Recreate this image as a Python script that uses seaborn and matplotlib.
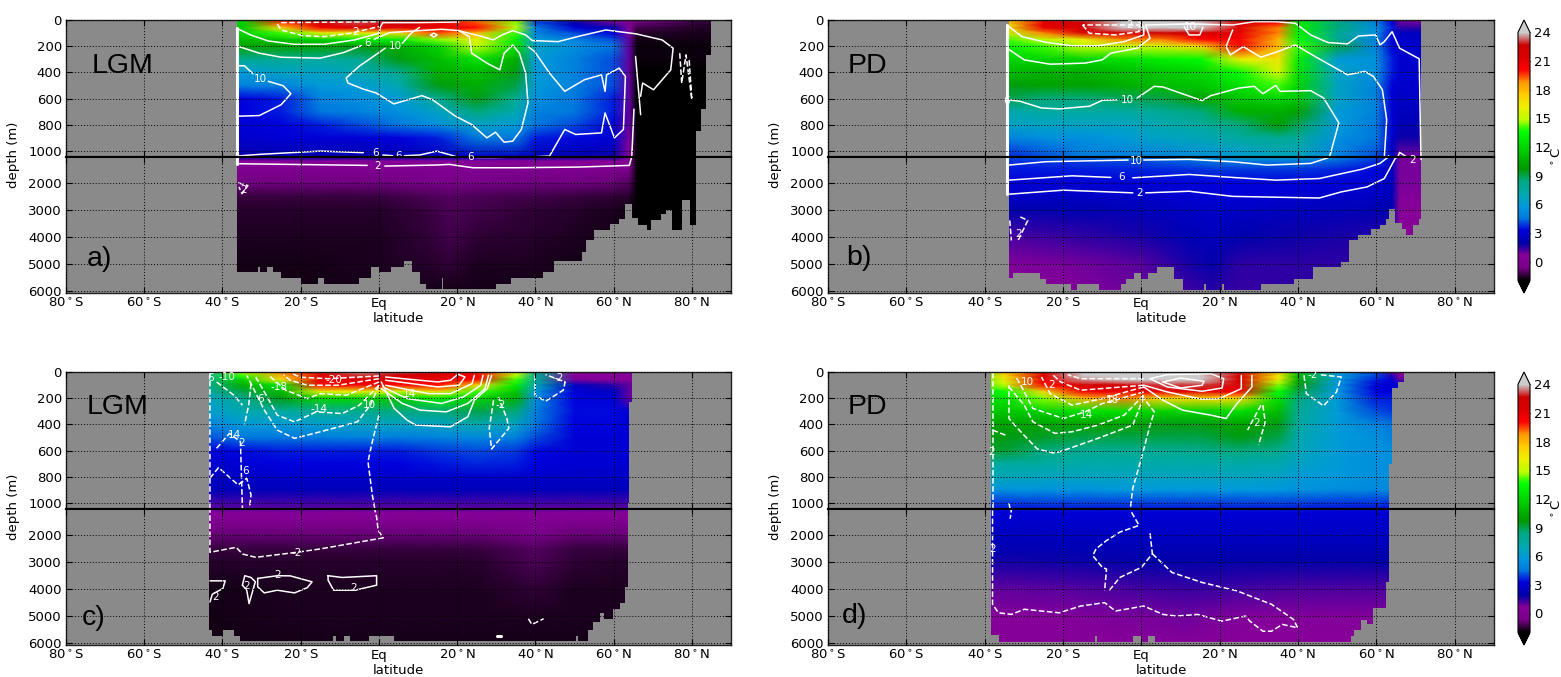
import numpy as np
import pandas as pd
import matplotlib
matplotlib.use("Agg")
import matplotlib.pyplot as plt
import seaborn as sns

# ---- grids of the temperature sections ----
lat_upper = [-45, -35, -25, -15, -5, 5, 15, 25, 35, 40, 50, 60, 64, 66, 90]
depth_upper = [0, 25, 60, 100, 150, 200, 300, 400, 500, 600, 700, 800, 900, 1050]
lat_lower = [-45, -20, 0, 12, 18, 25, 40, 50, 60, 64, 66, 90]
depth_lower = [1050, 1200, 1500, 2000, 2500, 3000, 4000, 5000, 6100]

a_upper = [
    [11, 12, 20, 22.5, 23.5, 23, 21, 19, 15, 4, 1.5, 0.5, 0, -0.5, -1.7],
    [11, 12, 19.5, 22, 23, 22.5, 21, 19.5, 14.5, 4, 2, 1, 0, -0.8, -1.7],
    [11, 11.5, 17, 20.5, 21.5, 21, 21, 20, 15, 5, 3, 2, 0.5, -1.2, -1.7],
    [12, 12, 14, 16, 16, 17, 19.5, 18, 14, 5, 4, 3, 0.8, -1.5, -1.7],
    [11, 11, 11.5, 12, 13, 13, 14.5, 16, 13, 6, 5, 4, 1, -1.7, -1.7],
    [10, 10, 10, 10, 9.5, 10.5, 12, 15, 12.5, 6.5, 5.5, 4.5, 1, -1.8, -1.8],
    [8, 8, 8, 7.5, 8, 9.5, 11, 12.5, 10.5, 6, 5, 4, 1, -1.8, -1.8],
    [6, 6, 6.5, 6.5, 7, 8, 10.5, 11, 9.5, 6, 5, 4, 1, -1.9, -1.9],
    [5, 5, 5, 6, 6, 7, 9.5, 10.5, 9, 6, 5, 4, 1, -1.9, -1.9],
    [3.2, 3.2, 3.5, 5, 5.5, 6, 8, 9.5, 8, 5.5, 4.5, 3.5, 1, -2, -2],
    [3.2, 3.2, 3.5, 4.5, 5, 5.5, 6.5, 8.5, 7, 5, 4.5, 3.5, 1, -2, -2],
    [3, 3, 3.2, 3.5, 4, 4.5, 5.5, 6.5, 6, 4.5, 4, 3, 1, -2, -2],
    [2.8, 2.8, 3, 3, 3, 3.2, 3.5, 4.5, 4.5, 3.5, 3.3, 3, 0.8, -2, -2],
    [1.8, 1.8, 2, 2, 2, 2, 2.2, 2.5, 2.5, 2.2, 2, 1.8, 0.5, -2, -2],
]
a_lower = [
    [1.8, 2, 2, 2.2, 2.5, 2.5, 2.2, 2, 1.8, 0.5, -2, -2],
    [0.5, 0.5, 0.5, 0.6, 0.6, 0.6, 0.5, 0.5, 0.5, 0.2, -2, -2],
    [0, 0, 0, 0, 0, 0, 0, 0, 0, -0.2, -2, -2],
    [-0.7, -0.7, -0.7, -0.6, -0.6, -0.6, -0.7, -0.7, -0.8, -1, -2, -2],
    [-1.3, -1.3, -1.3, -1.1, -1, -1.1, -1.2, -1.3, -1.4, -1.5, -2, -2],
    [-1.5, -1.5, -1.5, -1.3, -1.1, -1.2, -1.4, -1.5, -1.6, -1.7, -2, -2],
    [-1.6, -1.6, -1.6, -1.4, -1.2, -1.4, -1.5, -1.6, -1.7, -1.8, -2, -2],
    [-1.7, -1.7, -1.6, -1.5, -1.4, -1.6, -1.6, -1.7, -1.7, -1.8, -2, -2],
    [-1.7, -1.7, -1.7, -1.7, -1.7, -1.7, -1.7, -1.7, -1.8, -1.8, -2, -2],
]

b_upper = [
    [17, 17, 21, 23, 24, 24, 23.5, 22, 20.5, 13, 8, 4.5, 3, 1, 1],
    [16.5, 16.5, 21, 22.5, 24, 24, 24, 22, 20, 13, 8.5, 5, 3, 1, 1],
    [16, 16, 21, 22, 24, 24, 24, 21.5, 19, 13, 8.5, 5.5, 3.5, 1.5, 1.5],
    [15, 15, 19, 21.5, 22, 22.5, 22.5, 21, 19, 13, 8, 5.5, 3, 2.5, 2.5],
    [14, 14, 15, 16, 19, 19, 20, 20.5, 18, 13.5, 8, 5, 3, 2.7, 2.7],
    [13, 13, 14, 15, 15, 15.5, 17, 20, 18, 14, 9, 5, 3, 2.8, 2.8],
    [12, 12, 12, 12, 12.5, 13, 13.5, 16, 16.5, 13, 6, 5.5, 3.5, 2.8, 2.8],
    [11, 11, 10.5, 10.5, 11, 11.5, 12, 13.5, 15.5, 12.5, 6.5, 5.5, 3.5, 2.8, 2.8],
    [9.5, 9.5, 10, 10, 10.5, 11, 11.5, 12.5, 14, 12, 6.5, 5, 3, 2.8, 2.8],
    [9, 9, 8.5, 8.5, 8.8, 9, 10, 11.5, 12, 11.5, 6.5, 5, 3, 2.6, 2.6],
    [7, 7, 7.5, 7.5, 7.5, 7.8, 8.5, 10.5, 10.5, 10, 6, 5, 3, 2.4, 2.4],
    [6.5, 6.5, 6.5, 6.5, 6.5, 7, 7.5, 8.5, 9.8, 8.8, 6, 4.5, 3, 2.2, 2.2],
    [5, 5, 5.5, 5.5, 6, 6.5, 6.8, 7.5, 8, 7.8, 5.5, 4.5, 2.8, 1.8, 1.8],
    [3.5, 3.5, 4, 4.5, 4.8, 5, 5.5, 6, 6.5, 6.5, 5, 4, 2.5, 0.8, 0.8],
]
b_lower = [
    [3.5, 4.5, 5, 5.5, 6, 6.5, 6.5, 5, 4, 2.5, 0.8, 0.8],
    [3.7, 3.8, 4, 4.3, 4.5, 4.7, 4.7, 4.3, 3.7, 2.5, 0.8, 0.8],
    [3.4, 3.5, 3.6, 3.7, 3.8, 3.8, 3.8, 3.6, 3.3, 2.5, 0.8, 0.8],
    [3, 3, 3, 3.1, 3.2, 3.2, 3.2, 3, 2.9, 2.4, 0.8, 0.8],
    [2.6, 2.6, 2.7, 2.9, 3, 3, 2.9, 2.7, 2.6, 2.2, 0.7, 0.7],
    [2, 2.1, 2.3, 2.6, 2.7, 2.6, 2.4, 2.3, 2.2, 2, 0.6, 0.6],
    [1.1, 1.4, 1.7, 2.2, 2.4, 2, 1.8, 1.7, 1.6, 1.5, 0.5, 0.5],
    [0.6, 0.8, 1.1, 1.7, 1.9, 1.5, 1.5, 1.5, 1.5, 1.5, 0.5, 0.5],
    [0.6, 0.6, 0.9, 1.3, 1.5, 1.4, 1.5, 1.5, 1.5, 1.5, 0.5, 0.5],
]

c_upper = [
    [8, 15, 19, 22, 23.5, 23, 21.5, 20, 15, 8.5, 0.6, 0.6, 0.5, 0.5, 0.5],
    [8, 14, 18.5, 21.5, 23, 22.5, 21.5, 20.5, 15, 8, 0.6, 0.6, 0.5, 0.5, 0.5],
    [8, 12, 16.5, 21, 21.5, 21.5, 21, 20, 14, 8, 0.8, 0.6, 0.5, 0.5, 0.5],
    [7.5, 10.5, 13, 20, 20.5, 20, 20, 17, 13, 7, 2.5, 1.5, 1, 1, 1],
    [7, 9, 11, 16, 16, 15, 17, 14, 11.5, 6, 3, 2.5, 1, 1, 1],
    [6.5, 8, 9.5, 12, 12, 11.5, 13, 12, 10.5, 5.5, 3.2, 3, 1, 1, 1],
    [6, 7, 7.5, 8, 8.2, 8.5, 8.5, 9, 8.5, 5, 3.3, 3.3, 3, 3, 3],
    [5, 6, 6, 6.2, 6.5, 6.5, 6.5, 7, 6.5, 4.5, 3.2, 3.2, 3, 3, 3],
    [4, 4.5, 4.5, 4.8, 5, 4.8, 5, 5.2, 5, 4, 3, 3, 3, 3, 3],
    [3.2, 3.3, 3.5, 3.5, 3.5, 3.5, 3.8, 4, 3.8, 3.3, 3, 3, 3, 3, 3],
    [2.8, 3, 3.2, 3.2, 3.2, 3.2, 3.4, 3.6, 3.5, 3.2, 2.9, 2.9, 2.9, 2.9, 2.9],
    [2.6, 2.7, 2.8, 2.8, 2.8, 2.8, 2.8, 2.8, 2.8, 2.8, 2.7, 2.7, 2.7, 2.7, 2.7],
    [2.3, 2.3, 2.3, 2.3, 2.3, 2.3, 2.3, 2.3, 2.3, 2.3, 2.3, 2.3, 2.3, 2.3, 2.3],
    [1, 1, 1, 1, 1, 1, 1, 1, 1, 1, 1, 1, 1, 1, 1],
]
c_lower = [
    [1, 1, 1, 1, 1, 1, 1, 1, 1, 1, 1, 1],
    [0.5, 0.5, 0.5, 0.5, 0.5, 0.5, 0.5, 0.5, 0.5, 0.5, 0.5, 0.5],
    [0, 0, 0, 0, 0, 0, 0.1, 0, 0, 0, 0, 0],
    [-0.8, -0.8, -0.8, -0.8, -0.8, -0.8, -0.5, -0.8, -0.8, -0.8, -0.8, -0.8],
    [-1.3, -1.3, -1.3, -1.3, -1.3, -1.3, -1, -1.3, -1.3, -1.3, -1.3, -1.3],
    [-1.5, -1.5, -1.5, -1.5, -1.5, -1.5, -1.1, -1.4, -1.5, -1.5, -1.5, -1.5],
    [-1.7, -1.6, -1.6, -1.6, -1.6, -1.6, -1.4, -1.6, -1.6, -1.6, -1.6, -1.6],
    [-1.7, -1.6, -1.6, -1.6, -1.6, -1.6, -1.6, -1.6, -1.6, -1.6, -1.6, -1.6],
    [-1.7, -1.7, -1.7, -1.7, -1.7, -1.7, -1.7, -1.7, -1.7, -1.7, -1.7, -1.7],
]

d_upper = [
    [13, 18, 22, 24, 24, 24, 24, 22, 17, 11.5, 6, 3.5, 1, 0.5, 0.5],
    [13, 17, 21.5, 24, 24, 24, 24, 22, 16.5, 11, 6, 4, 1.5, 0.5, 0.5],
    [13, 16, 21, 23.5, 24, 24, 24, 22, 16, 10.5, 6, 3.5, 3, 1, 1],
    [12.5, 15, 20, 22, 22, 23, 23, 21.5, 14.5, 9.5, 5.8, 3, 3, 3, 3],
    [12, 13.5, 17, 20.5, 21, 21, 21.5, 20.5, 13.5, 9, 5.8, 3.2, 3, 3, 3],
    [12, 12.5, 14.5, 18, 19, 17, 17, 17, 12.5, 8.5, 6, 3.5, 3.5, 3.5, 3.5],
    [11.5, 11.5, 12, 12.5, 12.5, 12, 12, 12.5, 11, 8, 6, 4, 3.8, 3.8, 3.8],
    [10, 10, 10, 10, 10, 9.5, 9.5, 10, 9.5, 7.5, 6, 5, 4.5, 4.5, 4.5],
    [9.5, 9.5, 9.3, 9, 9, 9, 9, 9.5, 9, 7, 6, 5.5, 5, 5, 5],
    [9.5, 9.2, 8.5, 8, 8, 8, 8.2, 8.5, 8.2, 6.8, 6, 5.5, 5.5, 5.5, 5.5],
    [7.5, 7.5, 7.5, 7.2, 7.2, 7.2, 7.2, 7.2, 7, 6.5, 6, 5.5, 5.5, 5.5, 5.5],
    [6.8, 6.8, 6.6, 6.6, 6.6, 6.6, 6.6, 6.6, 6.4, 6, 5.8, 5.5, 5.5, 5.5, 5.5],
    [5.6, 5.6, 5.6, 5.6, 5.8, 5.8, 5.8, 5.8, 5.8, 5.6, 5.4, 5.2, 5.2, 5.2, 5.2],
    [3.3, 3.3, 3.4, 3.4, 3.4, 3.4, 3.4, 3.4, 3.4, 3.4, 3.3, 3.3, 3.3, 3.3, 3.3],
]
d_lower = [
    [3.3, 3.4, 3.4, 3.4, 3.4, 3.4, 3.4, 3.3, 3.3, 3.3, 3.3, 3.3],
    [3, 3, 3, 3, 3, 3, 3, 3, 3, 3, 3, 3],
    [2.8, 2.8, 2.8, 2.8, 2.8, 2.8, 2.8, 2.8, 2.8, 2.8, 2.8, 2.8],
    [2.4, 2.5, 2.6, 2.6, 2.6, 2.6, 2.6, 2.6, 2.6, 2.6, 2.6, 2.6],
    [2.1, 2.2, 2.2, 2.2, 2.2, 2.2, 2.2, 2.2, 2.2, 2.2, 2.2, 2.2],
    [1.7, 1.8, 1.9, 1.9, 1.9, 1.9, 1.9, 1.9, 1.9, 1.9, 1.9, 1.9],
    [1, 1.1, 1.3, 1.4, 1.4, 1.3, 1.2, 1.2, 1.2, 1.2, 1.2, 1.2],
    [0.6, 0.7, 0.8, 0.9, 0.8, 0.7, 0.7, 0.7, 0.7, 0.7, 0.7, 0.7],
    [0.5, 0.5, 0.6, 0.6, 0.6, 0.6, 0.6, 0.6, 0.6, 0.6, 0.6, 0.6],
]

# ---- sea floor: latitude where a step starts, deepest wet depth from there ----
a_floor_lat = [-80, -36.4, -31, -30.5, -28.5, -27, -25, -20, -15.6, -14, -5, -2, 0, 3.2, 6.5, 8.4, 10.4, 12, 16, 16.5, 30, 33.7, 42,
               44.7, 52, 53, 55, 59, 61.3, 63, 64.7, 66.3, 68.5, 69.5, 72, 73.5, 75, 77.4, 79.6, 81, 82.4, 83.5, 85]
a_floor_depth = [0, 5300, 5100, 5300, 5100, 5300, 5530, 5720, 5530, 5720, 5530, 5100, 5300, 5100, 4900, 5300, 5720, 5930, 5530, 5930, 5720, 5530, 5300,
                 4900, 4540, 4100, 3740, 3520, 3330, 2800, 3300, 3550, 3740, 3360, 3140, 3000, 3740, 2620, 3550, 850, 680, 270, 0]
b_floor_lat = [-80, -33.8, -32.9, -26, -24.4, -18, -16.5, -10.7, -5.3, -3.9, -2, 0, 1.7, 3.9, 8.3, 10.5, 16, 16.5, 20.5, 21, 30.5, 39, 43.7,
               51, 53, 55.4, 58.7, 60.9, 62.5, 63.3, 64.8, 66.4, 67.5, 69.2, 70.9, 71.4]
b_floor_depth = [0, 5530, 5340, 5560, 5745, 5960, 5745, 5960, 5745, 5560, 5340, 5560, 5340, 5125, 5560, 5960, 5745, 5960, 5745, 5960, 5745, 5560, 5125,
                 4940, 4130, 3920, 3700, 3540, 3330, 2950, 3490, 3700, 3920, 3540, 3330, 0]
c_floor_lat = [-80, -43.5, -42.6, -39.9, -37.1, -35.4, -11.7, -11, -8.9, -7.4, -2.5, 3.9, 50.5, 51, 53.5, 54.8, 56.5, 57.6, 59.8, 61.5, 63, 63.7, 64, 64.6]
c_floor_depth = [0, 5530, 5720, 5530, 5720, 5930, 5720, 5930, 5720, 5930, 5720, 5930, 5720, 5930, 5530, 5220, 4900, 5100, 4730, 4520, 3920, 1000, 230, 0]
d_floor_lat = [-80, -38.3, -36.3, -11.9, -11.3, -2.2, 0, 1.7, 3.5, 53.4, 54.3, 56, 57.5, 58, 59.2, 62.5, 63.3, 64, 65.6, 67]
d_floor_depth = [0, 5700, 5950, 5720, 5950, 5720, 5950, 5720, 5950, 5720, 5500, 5130, 5300, 5300, 4700, 3750, 700, 120, 80, 0]

a_solid = [
    [(-36.4, 63), (-32.8, 114), (-28.3, 160), (-21.7, 185), (-14, 185), (-6.2, 152), (0, 101), (0.4, 51), (1, 20), (10.4, 20), (20.4, 15)],
    [(-36.4, 197), (-30.6, 253), (-25, 284), (-15, 291), (-9, 248), (-4.5, 195)],
    [(-1.2, 147), (2.7, 96), (10.4, 81), (16, 71), (20.4, 81), (23, 101), (26.5, 127), (29.2, 152), (31.5, 114), (34.2, 81), (37.5, 114), (39.2, 157),
     (45.8, 165), (51.4, 122), (58, 76), (65.8, 106), (72.4, 152), (75.2, 215), (74.6, 380), (72.4, 456), (70.2, 532), (67.4, 481), (66.9, 582)],
    [(65.6, 278), (66.9, 722)],
    [(10.4, 56), (8.2, 101), (6, 177)],
    [(1.6, 215), (-5.1, 354), (-8.4, 443), (-7.9, 481), (-4, 527), (-0.7, 557), (3.8, 640), (11, 577), (13.7, 608), (19.3, 729), (23.7, 797), (27.6, 899),
     (29.8, 856), (32, 932), (34.2, 924), (36.4, 835), (38.1, 633), (37.5, 405), (35.9, 253), (34.2, 190), (32, 253), (30.9, 380), (27.6, 329), (23.7, 253), (23.1, 127), (20.4, 81)],
    [(13.2, 114), (14, 100), (14.9, 114), (14, 130), (13.2, 114)],
    [(-36.4, 349), (-34.4, 349), (-32.2, 410)],
    [(-28.3, 468), (-24.5, 501), (-22.5, 562), (-25, 646), (-30.6, 729), (-36.4, 734)],
    [(38, 200), (39.8, 240), (43.6, 405), (47.5, 544), (52.5, 456), (56.9, 418), (57.8, 544), (58.2, 418), (61.4, 367), (63, 430), (62.5, 835), (60.2, 899),
     (57.8, 709), (56.9, 861), (50.3, 873), (47.5, 835), (43.6, 1038), (34.8, 1050), (29.2, 1063), (25, 1063)],
    [(-36.4, 1038), (-30.6, 1025), (-15, 1000), (-4, 1012)],
    [(1, 1030), (3.5, 1035)],
    [(6.5, 1035), (10.4, 1030), (14.8, 1000), (19.3, 1038), (21.5, 1060)],
    [(-36.4, 1293), (-3, 1355)],
    [(1.5, 1380), (15, 1340), (18, 1318), (24, 1442), (35, 1442), (51, 1417), (64, 1355), (64.7, 1000), (65.2, 680)],
]
a_bold = [[(-36.4, 63), (-36.4, 1293)]]
a_dashed = [
    [(-26, 30), (-25, 76), (-19.5, 119), (-14, 127), (-7.3, 101), (0, 50)],
    [(-25, 20), (0, 13)],
    [(76.9, 253), (77.4, 481), (78.5, 266), (80, 608), (79.3, 304)],
    [(-36, 2000), (-33.5, 2100), (-35, 2400), (-35.8, 2150)],
]
a_labels = [("2", -6, 89), ("6", -3, 172), ("10", 4.3, 197), ("10", -30.2, 450), ("6", -0.8, 1018), ("6", 4.9, 1035),
            ("6", 23.5, 1063), ("2", -0.4, 1380), ("2", -34.5, 2250)]

b_solid = [
    [(-34.3, 38), (-30.5, 127), (-24.4, 170), (-17.7, 197), (-11.1, 197), (-4.4, 165), (0.6, 114), (0.6, 51), (-0.6, 13)],
    [(-34.3, 215), (-29.9, 304), (-23.3, 337), (-14.4, 329), (-10, 304), (-7.8, 253), (-1.1, 215), (2.2, 139), (1.1, 38), (12.2, 30), (23.3, 38), (28.8, 13), (34.3, 13),
     (39.3, 25), (43.2, 114), (47.6, 172), (52.6, 182), (55.4, 122), (59.8, 114), (60.9, 190), (62, 165), (64, 89), (65.9, 215), (70.9, 296), (71.4, 1139)],
    [(23.3, 76), (21.6, 203), (22.7, 266), (26, 203), (30.5, 284), (34.9, 240), (39.3, 190), (44.3, 278), (52.6, 418), (57, 392), (59.2, 430), (61.5, 532), (62.6, 760), (62, 1051)],
    [(-34.3, 608), (-31, 620), (-25.5, 671), (-21, 678), (-13.3, 658), (-10, 613), (-6.1, 608)],
    [(-1.1, 595), (3.3, 506), (5.5, 511), (15.5, 615), (17.7, 577), (24.9, 519), (28.8, 506), (31, 562), (34.3, 499), (35.4, 544), (43.2, 539), (46.5, 595), (50.4, 785),
     (48.2, 1025), (47.5, 1080), (43.2, 1281), (32.1, 1343), (23.3, 1219), (12.2, 1132), (0.6, 1157)],
    [(-3.4, 1157), (-24.4, 1219), (-33.8, 1343)],
    [(10.9, 51), (12.2, 114), (14.9, 114), (15.7, 56)],
    [(-33.8, 1900), (-17.7, 1740), (-7.8, 1800)],
    [(-2.2, 1814), (12.2, 1690), (23.3, 1800), (34.3, 1900), (45.4, 1840), (56.5, 1490), (60.9, 1280), (63.1, 1035)],
    [(-33.8, 2420), (-19.9, 2270), (-2.2, 2370)],
    [(1.1, 2370), (12.2, 2310), (23.3, 2500), (45.4, 2560), (51, 2335), (57.6, 2150), (62, 1840), (64.8, 1095), (65.9, 1010), (67.5, 1040)],
]
b_bold = [[(-34.3, 38), (-34.3, 2420)]]
b_dashed = [
    [(-15, 38), (-13.3, 101), (-6.6, 114), (-0.6, 89), (-0.6, 38), (-15, 38)],
    [(-33.6, 3390), (-33.2, 4130)],
    [(-30.9, 3260), (-29, 3390), (-31.5, 4130)],
]
b_labels = [("10", -3.5, 613), ("10", -1.3, 1180), ("6", -5, 1800), ("2", -0.4, 2370), ("2", 69.2, 1157), ("2", -3.1, 35),
            ("10", 12.5, 51), ("6", -34.3, 620), ("2", -31.3, 3900)]

c_solid = [
    [(0.6, 76), (3.9, 278), (7.2, 367), (9.4, 405), (18.3, 418), (22.7, 342), (24.4, 215), (27.7, 127), (28.8, 25)],
    [(0.6, 127), (6, 240), (10.5, 291), (17.2, 304), (22.7, 240), (27.1, 127), (28, 25)],
    [(1, 114), (7.2, 203), (16, 240), (21.6, 190), (26, 101), (26.6, 25)],
    [(1.7, 101), (12.7, 165), (18.3, 165), (23.8, 89), (24.4, 25)],
    [(1.7, 63), (15, 114), (20.5, 101), (22, 38), (20, 15)],
    [(1.7, 38), (15, 76), (18.3, 63), (19.9, 25)],
    [(-43.2, 3700), (-39.3, 3700), (-39.9, 3980), (-42.6, 4195), (-43.2, 4480)],
    [(-34.9, 3860), (-34.3, 3510), (-32.7, 3575), (-31.6, 3735), (-33.2, 4540), (-33.8, 4045), (-34.9, 3860)],
    [(-31, 3610), (-26, 3510), (-22.7, 3515), (-17.1, 3735), (-18.3, 3950), (-21.6, 4145), (-26, 4045), (-29.3, 4145), (-31, 3920), (-31, 3610)],
    [(-13, 3510), (-9.4, 3575), (-0.6, 3510), (-0.6, 3860), (-6.1, 4045), (-11.6, 4045), (-13, 3675), (-13, 3510)],
]
c_bold = [[(30.3, 5730), (31.1, 5730)]]
c_dashed = [
    [(0, 329), (-1.7, 532), (-2.8, 684), (-1.7, 937), (-1.1, 1038), (-0.6, 1343), (-0.2, 1840), (1.1, 2110), (-15, 2520), (-21, 2645), (-31.5, 2830),
     (-34.9, 2707), (-36.5, 2460), (-43.2, 2645), (-43.2, 0)],
    [(0, 101), (-2.2, 253), (-5.5, 380), (-15, 456), (-21.6, 506), (-26, 443), (-29.3, 291), (-32.7, 89), (-33.8, 25)],
    [(0, 101), (-5, 253), (-9.4, 317), (-16, 304), (-21.6, 380), (-26, 329), (-29.3, 152), (-31.5, 38)],
    [(0, 76), (-8.3, 177), (-15, 165), (-18.3, 203), (-23.8, 139), (-27.2, 51), (-28.3, 20)],
    [(0, 51), (-10.5, 101), (-18.3, 101), (-22.7, 63), (-24.4, 20)],
    [(0, 30), (-13, 51), (-20, 40), (-22, 15)],
    [(-32.7, 89), (-33.3, 253), (-34.4, 405)],
    [(-41.5, 76), (-37.1, 177), (-34.9, 253)],
    [(-43.2, 810), (-41, 729), (-36, 861), (-33.8, 810), (-32.7, 937), (-33.2, 1063), (-34.9, 1038), (-35.4, 532), (-38.2, 468), (-41.5, 582)],
    [(29.3, 215), (28.2, 430), (28.8, 587), (33.2, 430), (32.7, 354), (30.5, 190)],
    [(39.9, 25), (39.9, 177), (42.6, 223), (47.1, 139), (47.6, 76), (42.6, 20)],
    [(38.2, 5100), (39.1, 5310), (42.1, 5100)],
]
c_labels = [("-10", -38.8, 38), ("6", -43, 42), ("-14", -15.3, 286), ("-20", -11.6, 63), ("-18", -25.5, 114), ("6", -30.2, 203),
            ("-2", 31.2, 253), ("-2", 46, 43), ("14", -37, 481), ("2", -35, 540), ("6", -34, 752), ("10", -2.5, 253), ("14", 7.8, 165),
            ("-2", -21, 2680), ("2", -26, 3480), ("2", -6.6, 3970), ("2", -41.8, 4300), ("2", -33.8, 3880)]

d_solid = [
    [(0.6, 114), (5.5, 215), (10.5, 291), (17.7, 329), (21.6, 355), (24.4, 240), (28.2, 114), (28.2, 25)],
    [(0.6, 101), (6.6, 152), (15.5, 208), (19.9, 203), (25.5, 127), (25.5, 25)],
    [(2.2, 51), (6.6, 114), (15.5, 147), (20.6, 122), (21, 51), (17.7, 13), (6.6, 20), (2.2, 51)],
    [(5.5, 76), (10, 122), (15.5, 101), (16, 71), (10, 46), (5.5, 76)],
]
d_bold = []
d_dashed = [
    [(0, 177), (3.3, 304), (2.2, 405), (0, 658), (-2.2, 886), (-2.8, 1038), (-2.8, 1095), (-0.6, 1650), (-5.5, 1900), (-8.9, 2210), (-11.6, 2520),
     (-12.4, 2770), (-10, 3200), (-8.9, 3265), (-9.4, 4070)],
    [(2.2, 1940), (2.8, 2700), (0, 3200), (-5.5, 3575), (-8.3, 4070)],
    [(2.8, 2700), (7.8, 3390), (15.5, 3760), (24.4, 4070), (28.8, 4320), (33.2, 4565), (38.8, 5125), (39.9, 5435), (36, 5310), (33.2, 5560), (31, 5560), (27.7, 5190),
     (26.6, 5000), (20.5, 5190), (14.4, 4940), (8.9, 5000), (5.5, 4940), (0.6, 4630), (-6.6, 4815), (-9.4, 4505), (-15.5, 4630), (-21, 4880), (-29.9, 4750),
     (-33.2, 4940), (-36.5, 4880), (-38, 4565), (-38, 0)],
    [(0.6, 177), (-4.4, 329), (-11.1, 405), (-17.7, 456), (-22.1, 468), (-27.7, 380), (-29.9, 253), (-33.8, 114)],
    [(0.6, 190), (-2.2, 405), (-11.1, 506), (-18.3, 582), (-22.1, 620), (-26.6, 587), (-31.6, 430), (-33.8, 354), (-33.8, 101)],
    [(0.6, 152), (-10, 241), (-14.4, 304), (-19.9, 354), (-27.7, 278), (-31, 89), (-32, 40)],
    [(0.6, 114), (-10, 203), (-17.7, 253), (-23.3, 165), (-25.5, 38)],
    [(0.6, 101), (-15.5, 139), (-20.6, 76), (-22.7, 20)],
    [(0.6, 51), (-15.5, 51), (-18.8, 20)],
    [(-38, 443), (-34.3, 486)],
    [(-33.8, 1000), (-33.2, 1100), (-33.5, 1405)],
    [(30.5, 253), (27.1, 443)],
    [(31, 253), (31.6, 380), (29.9, 557)],
    [(41.5, 25), (42.1, 165), (46.5, 258), (49.8, 152), (51, 38), (45.4, 20)],
]
d_labels = [("18", -7.5, 210), ("14", -14, 329), ("2", 29.3, 392), ("-2", 43.7, 25), ("2", -38.2, 608), ("2", -23, 100),
            ("10", -29, 76), ("2", -38, 2520)]

# ticks and text
lat_ticks = [-80, -60, -40, -20, 0, 20, 40, 60, 80]
lat_labels = ["80$^\\circ$S", "60$^\\circ$S", "40$^\\circ$S", "20$^\\circ$S", "Eq", "20$^\\circ$N", "40$^\\circ$N", "60$^\\circ$N", "80$^\\circ$N"]
upper_ticks = [0, 200, 400, 600, 800, 1000]
lower_ticks = [2000, 3000, 4000, 5000, 6000]
bar_ticks = [0, 3, 6, 9, 12, 15, 18, 21, 24]

W, H = 1561, 677
LAND = "#8a8a8a"
UP_YLIM = (1045, 0)
LO_YLIM = (6070, 1045)

sns.set_style("white")
plt.rcParams["font.family"] = ["DejaVu Sans"]
plt.rcParams["font.size"] = 9.5
plt.rcParams["text.color"] = "black"
plt.rcParams["axes.labelcolor"] = "black"

cmap = plt.get_cmap("nipy_spectral").copy()
cmap.set_under("black")
cmap.set_over("#cccccc")

fig = plt.figure(figsize=(W / 100, H / 100), dpi=100)


def px_axes(x0, y0, x1, y1):
    return fig.add_axes([x0 / W, 1 - y1 / H, (x1 - x0) / W, (y1 - y0) / H])


def draw_section(ax, values, lats, depths, floor_lat, floor_depth, ylim, cax=None):
    table = pd.DataFrame(values, index=depths, columns=lats)
    cbar_kws = {"extend": "both", "extendfrac": 0.05, "ticks": bar_ticks}
    sns.heatmap(table, ax=ax, cmap=cmap, vmin=-2, vmax=24, shading="gouraud", xticklabels=False, yticklabels=False,
                cbar=cax is not None, cbar_ax=cax, cbar_kws=cbar_kws if cax is not None else None)
    mesh = ax.collections[0]
    # heatmap puts the nodes on 0,1,2..; move them to the real lat/depth
    X, Y = np.meshgrid(lats, depths)
    mesh._coordinates = np.stack([X, Y], axis=-1)
    # land
    ax.set_facecolor(LAND)
    ax.fill_between(floor_lat + [90], floor_depth + [0], 7000, step="post", color=LAND, linewidth=0, zorder=1.5)
    ax.set_xlim(-80, 90)
    ax.set_ylim(*ylim)
    return mesh


def draw_lines(ax, lines, lw, ls):
    for line in lines:
        pts = np.array(line)
        sns.lineplot(x=pts[:, 0], y=pts[:, 1], sort=False, estimator=None, color="white", linewidth=lw, linestyle=ls, ax=ax, legend=False)


def finish_axes(ax, yticks, bottom):
    for spine in ax.spines.values():
        spine.set_visible(True)
        spine.set_color("#222222")
        spine.set_linewidth(1.0)
    ax.spines["bottom" if not bottom else "top"].set_linewidth(1.5)
    ax.spines["bottom" if not bottom else "top"].set_color("black")
    ax.set_axisbelow(False)
    ax.grid(True, color="black", linestyle=(0, (1, 2)), linewidth=0.7)
    ax.set_xticks(lat_ticks)
    ax.set_xticklabels(lat_labels if bottom else [])
    ax.set_yticks(yticks)
    ax.set_yticklabels([str(t) for t in yticks])
    ax.tick_params(direction="in", length=4, width=0.8, top=True, right=True, bottom=True, left=True, labelsize=9.5, colors="black", pad=3)
    ax.set_xlabel("")
    ax.set_ylabel("")


panels = [
    (66, 731, 20, 157, 293, a_upper, a_lower, a_floor_lat, a_floor_depth, a_solid, a_bold, a_dashed, a_labels, "LGM", "a)", 92, 73, 87, 266, False),
    (828, 1494, 20, 157, 293, b_upper, b_lower, b_floor_lat, b_floor_depth, b_solid, b_bold, b_dashed, b_labels, "PD", "b)", 848, 73, 846, 265, True),
    (66, 731, 372, 509, 645, c_upper, c_lower, c_floor_lat, c_floor_depth, c_solid, c_bold, c_dashed, c_labels, "LGM", "c)", 87, 414, 82, 625, False),
    (828, 1494, 372, 509, 645, d_upper, d_lower, d_floor_lat, d_floor_depth, d_solid, d_bold, d_dashed, d_labels, "PD", "d)", 848, 414, 842, 623, True),
]

for x0, x1, top, mid, bot, upper, lower, f_lat, f_depth, solid, bold, dashed, labels, name, tag, name_x, name_y, tag_x, tag_y, has_bar in panels:
    ax_up = px_axes(x0, top, x1, mid)
    ax_lo = px_axes(x0, mid, x1, bot)
    cax = px_axes(1518, top, 1530, bot) if has_bar else None
    mesh = draw_section(ax_up, upper, lat_upper, depth_upper, f_lat, f_depth, UP_YLIM, cax)
    draw_section(ax_lo, lower, lat_lower, depth_lower, f_lat, f_depth, LO_YLIM)

    for ax, (y_bot, y_top) in ((ax_up, UP_YLIM), (ax_lo, LO_YLIM)):
        draw_lines(ax, solid, 1.1, "-")
        draw_lines(ax, bold, 2.2, "-")
        draw_lines(ax, dashed, 1.1, "--")
        for text, lat, depth in labels:
            if y_top <= depth <= y_bot:
                ax.text(lat, depth, text, color="white", fontsize=7.5, ha="center", va="center", zorder=3)
        ax.set_xlim(-80, 90)
        ax.set_ylim(y_bot, y_top)
    finish_axes(ax_up, upper_ticks, False)
    finish_axes(ax_lo, lower_ticks, True)

    fig.text((x0 + x1) / 2 / W, 1 - (bot + 26) / H, "latitude", ha="center", va="center", fontsize=9.5)
    fig.text((x0 - 52) / W, 1 - (top + 135) / H, "depth (m)", rotation=90, ha="center", va="center", fontsize=9.5)
    fig.text(name_x / W, 1 - name_y / H, name, family="Liberation Sans", fontsize=20.5, ha="left", va="baseline")
    fig.text(tag_x / W, 1 - tag_y / H, tag, family="Liberation Sans", fontsize=20.5, ha="left", va="baseline")

    if has_bar:
        cb = mesh.colorbar
        cb.outline.set_linewidth(0.8)
        cb.outline.set_edgecolor("black")
        cax.tick_params(labelsize=9.5, length=3, width=0.8, direction="in", colors="black", pad=3, right=True)
        fig.text(1557 / W, 1 - (top + 137) / H, "$^\\circ$C", rotation=90, ha="center", va="center", fontsize=9.5)

fig.savefig("out.png", dpi=100)
